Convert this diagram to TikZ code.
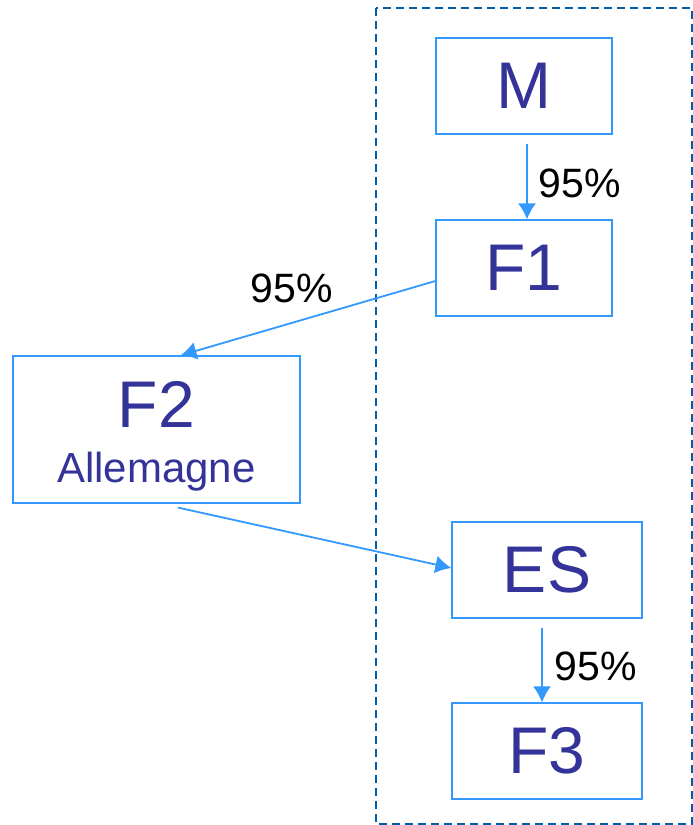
\documentclass[tikz,border=0pt]{standalone}
\usepackage{fontspec}
\setmainfont{Liberation Sans}
\usetikzlibrary{arrows.meta}
\definecolor{boxline}{RGB}{51,153,255}
\definecolor{boxtext}{RGB}{51,51,153}
\definecolor{zoneline}{RGB}{0,94,170}
\tikzset{
  entity/.style  = {draw=boxline, line width=1.2pt, text=boxtext, font=\fontsize{66}{55}\selectfont, inner sep=0pt},
  link/.style    = {boxline, line width=1.8pt, -{Latex[length=16pt,width=18pt]}},
  share/.style   = {font=\fontsize{41}{44}\selectfont, text=black},
  zone/.style    = {zoneline, line width=1.8pt, dash pattern=on 8pt off 5pt},
}

\begin{document}
\begin{tikzpicture}[x=1pt, y=-1pt]
\useasboundingbox (0,0) rectangle (693,825);
% perimetre
\draw[zone] (376,8) rectangle (692,824);

% societes
\node[entity, minimum width=176pt, minimum height=96pt] (m)  at (524,86)  {M};
\node[entity, minimum width=176pt, minimum height=96pt] (f1) at (524,268) {F1};
\node[entity, minimum width=287pt, minimum height=147pt, align=center] (f2) at (156.5,429.5)
  {\rule{0pt}{60.5pt}F2\\{\fontsize{42}{55}\selectfont Allemagne}};
\node[entity, minimum width=190pt, minimum height=96pt] (es) at (547,570) {ES};
\node[entity, minimum width=190pt, minimum height=96pt] (f3) at (547,751) {F3};

% participations
\draw[link] ([xshift=3pt,yshift=-9pt]m.south) -- ([xshift=3pt]f1.north);
\draw[link] ([yshift=-13pt]f1.west) -- ([xshift=24pt]f2.north);
\draw[link] ([xshift=21.5pt,yshift=-4pt]f2.south) -- ([yshift=2pt]es.west);
\draw[link] ([xshift=-5pt,yshift=-9pt]es.south) -- ([xshift=-5pt]f3.north);

\node[share] (pm)  at (580,183) {95\%};
\node[share] (pf1) at (292,288) {95\%};
\node[share] (pes) at (596,666) {95\%};
\end{tikzpicture}
\end{document}
